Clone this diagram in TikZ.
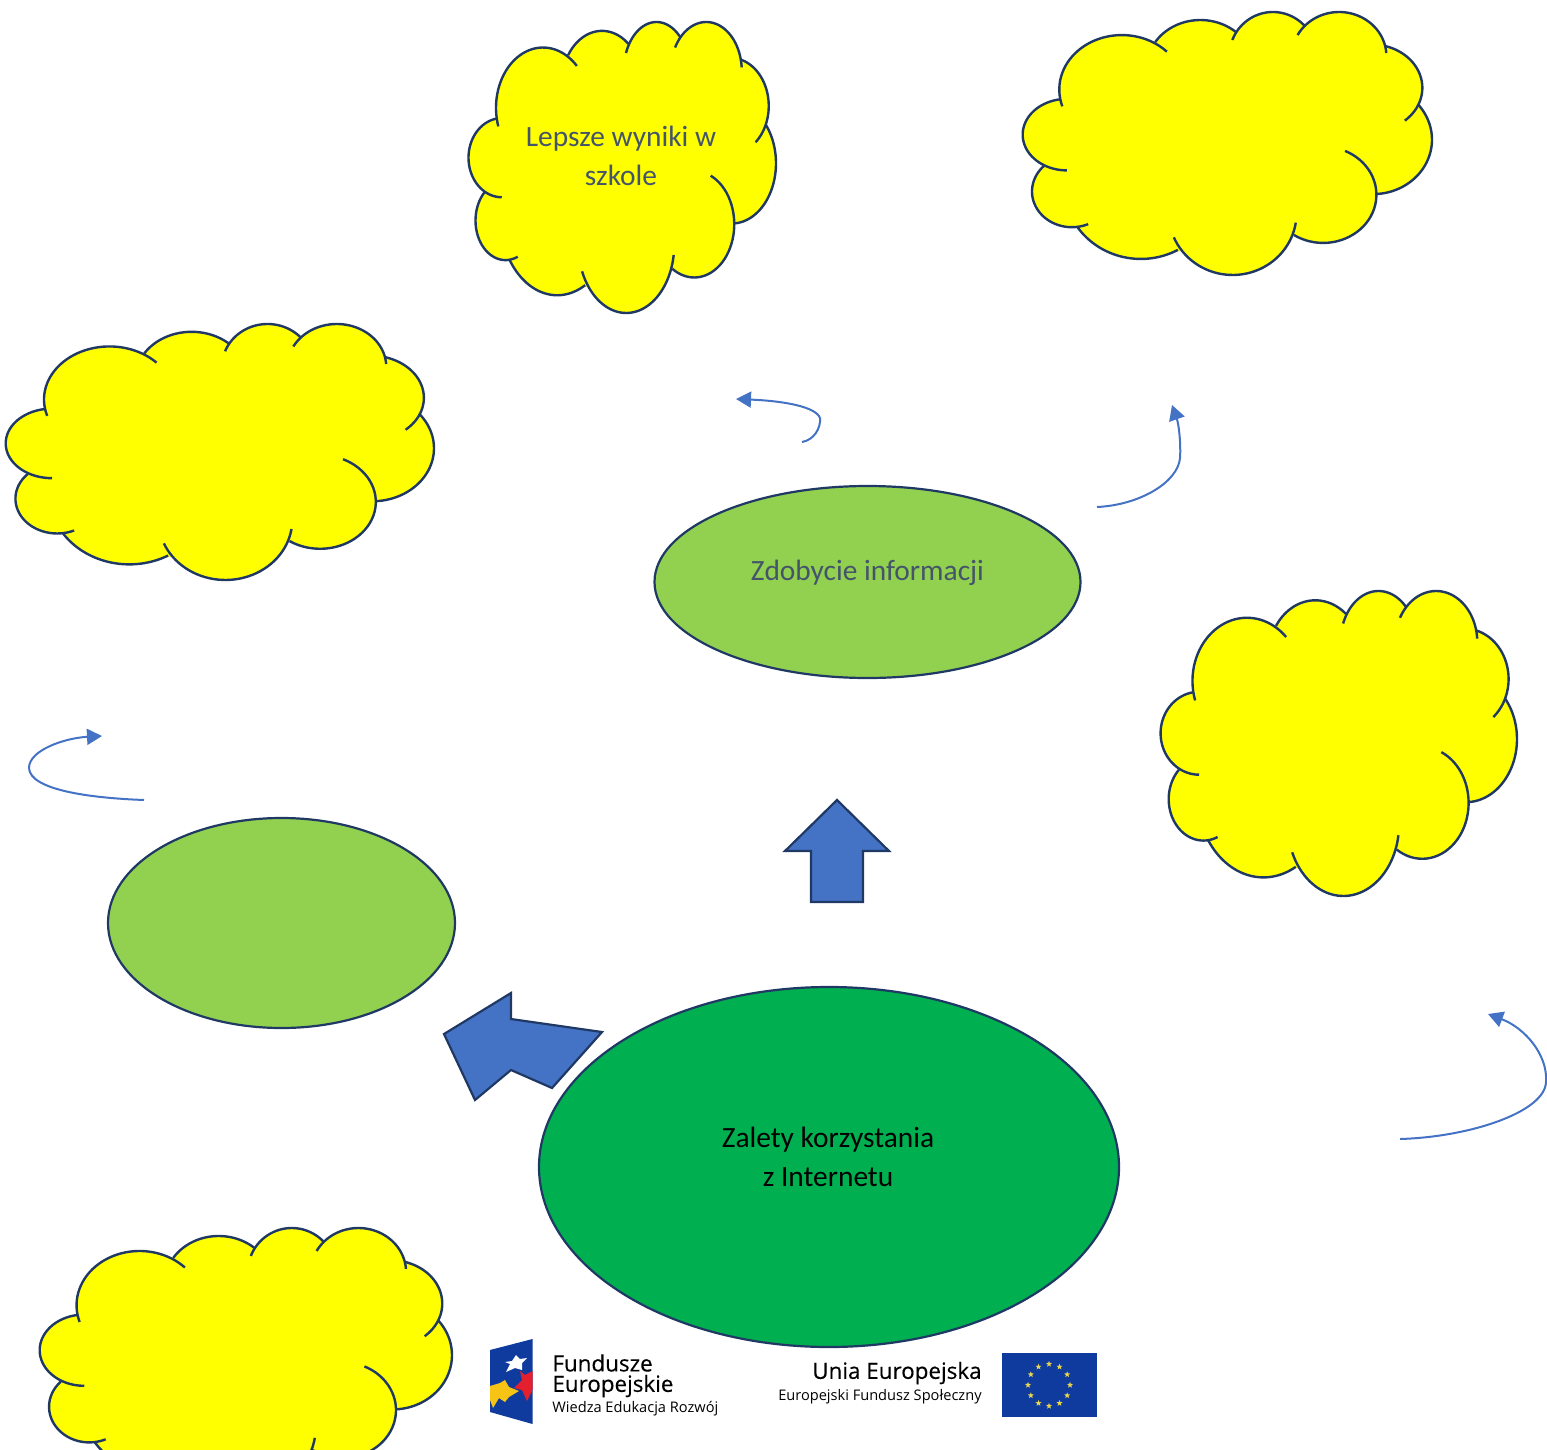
\documentclass[tikz,border=0pt]{standalone}
\usepackage{fontspec}
\setmainfont{Carlito}
\newfontfamily\logofont{Open Sans}
\newfontfamily\logobold[FakeBold=0.35]{Open Sans}
\usetikzlibrary{arrows.meta,shapes.geometric,calc}
\definecolor{lineblue}{HTML}{1F3864}
\definecolor{arrowblue}{HTML}{4472C4}
\definecolor{cloudyellow}{HTML}{FFFF00}
\definecolor{lightgreen}{HTML}{92D050}
\definecolor{darkgreen}{HTML}{00B050}
\definecolor{slate}{HTML}{44546A}
\definecolor{eublue}{HTML}{0F3B9E}
\definecolor{eustar}{HTML}{E8D44D}
\definecolor{logored}{HTML}{E5202E}
\definecolor{logoyellow}{HTML}{F7C416}
\tikzset{
  oval/.style={ellipse,draw=lineblue,line width=1.1pt,inner sep=0pt,outer sep=0pt},
  label text/.style={font=\fontsize{14.7}{19.5}\selectfont,align=center,inner sep=0pt},
  block/.style={draw=lineblue,line width=1.1pt,fill=arrowblue,line join=miter},
  curved/.style={draw=arrowblue,line width=1pt,-{Triangle[length=7.5pt,width=8pt]}},
  logo big/.style={font=\logobold\fontsize{11.2}{11.2}\selectfont,inner sep=0pt},
  logo small/.style={font=\logofont\fontsize{7.3}{7.3}\selectfont,inner sep=0pt},
}
% centre x, centre y, radius x, radius y, first angle, last angle
\newcommand\lobeseries{%
  \lobe{335}{270}{188}{163}{162}{316}%
  \lobe{571}{205}{161}{143}{212.6}{311}%
  \lobe{789}{170}{131}{132}{201.4}{317}%
  \lobe{988}{170}{142}{132}{208.5}{356}%
  \lobe{1085}{265}{153}{130}{286}{409}%
  \lobe{1090}{420}{177}{163}{-40}{87}%
  \lobe{940}{585}{160}{144}{-65.7}{123.3}%
  \lobe{668}{640}{192}{185}{8.8}{157}%
  \lobe{392}{560}{230}{217}{61}{146.5}%
  \lobe{185}{575}{120}{107}{66}{225}%
  \lobe{170}{405}{133}{107}{90}{261}%
}
\newcommand\cloudshape[4]{%
  \begin{scope}[shift={(#1,#2)},xscale={(#3-#1)/1232},yscale={(#4-#2)/787},shift={(-35,-38)}]
    \def\lobe##1##2##3##4##5##6{\fill[cloudyellow] plot[domain=##5:##6,samples=40,smooth] ({##1+##3*cos(\x)},{##2+##4*sin(\x)}) -- cycle;}%
    \lobeseries
    \filldraw[fill=cloudyellow,draw=cloudyellow,line width=0.8pt,line join=round] (150,298)--(435,128)--(677,97)--(885,80)--(1128,140)--(1225,315)--(1100,583)--(850,705)--(505,752)--(203,678)--(100,498)--cycle;
    \def\lobe##1##2##3##4##5##6{\draw[lineblue,line width=1.2pt] plot[domain=##5:##6,samples=40,smooth] ({##1+##3*cos(\x)},{##2+##4*sin(\x)});}%
    \lobeseries
  \end{scope}%
}
\begin{document}
\begin{tikzpicture}[x=0.5pt,y=-0.5pt]
\useasboundingbox (0,0) rectangle (1547,1450);
\clip (0,0) rectangle (1547,1450);

% clouds
\cloudshape{468}{22}{776}{313}
\cloudshape{1022}{12}{1432}{275}
\cloudshape{5}{324}{434}{580}
\cloudshape{1160}{591}{1517}{896}
\cloudshape{39}{1228}{452}{1490}
\node[label text,text=slate] (cloudtext) at (621,155.5) {Lepsze wyniki w\\szkole};

% ovals
\node[oval,fill=lightgreen,minimum width=213pt,minimum height=96pt] (info) at (867.5,582) {};
\node[oval,fill=lightgreen,minimum width=173.5pt,minimum height=105pt] (second) at (281.5,923) {};
\node[oval,fill=darkgreen,minimum width=290pt,minimum height=180pt] (main) at (829,1167) {};
\node[label text,text=slate] (infotext) at (867.5,573) {Zdobycie informacji};
\node[label text,text=black] (maintext) at (828,1156.5) {Zalety korzystania\\z Internetu};

% block arrows
\draw[block] (837,800)--(889,851)--(863,851)--(863,902)--(811,902)--(811,851)--(785,851)--cycle;
\draw[block] (444,1034)--(511,993)--(511,1019)--(602,1032)--(552,1088)--(511,1070)--(475,1100)--cycle;

% thin curved arrows
\coordinate (a1s) at (802,442); \coordinate (a1m) at (820,418); \coordinate (a1e) at (736,399);
\draw[curved] (a1s) .. controls (814,440) and (821,428) .. (a1m) .. controls (816,407) and (785,401) .. (a1e);
\coordinate (a2s) at (1097,507); \coordinate (a2m) at (1180,458); \coordinate (a2e) at (1172,405);
\draw[curved] (a2s) .. controls (1140,505) and (1178,482) .. (a2m) .. controls (1181,445) and (1179,425) .. (a2e);
\coordinate (a3s) at (144,800); \coordinate (a3m) at (29,768); \coordinate (a3e) at (102,736);
\draw[curved] (a3s) .. controls (90,798) and (30,790) .. (a3m) .. controls (29,750) and (65,738) .. (a3e);
\coordinate (a4s) at (1400,1139); \coordinate (a4m) at (1546,1082); \coordinate (a4e) at (1488,1014);
\draw[curved] (a4s) .. controls (1470,1137) and (1545,1112) .. (a4m) .. controls (1548,1055) and (1525,1028) .. (a4e);

% Fundusze Europejskie logo
\fill[eublue] (490,1350)--(532.5,1339)--(532.5,1424)--(490,1412)--cycle;
\fill[logoyellow] (490,1386)--(500,1383)--(505,1380)--(509,1387)--(519,1391)--(509,1397)--(505,1402)--(499,1398)--(493,1408)--(490,1400)--cycle;
\fill[logored] (532.5,1371)--(525,1375)--(520,1371)--(522,1380)--(514,1388)--(522,1390)--(527,1401)--(532.5,1390)--cycle;
\fill[white] (516,1355)--(520,1359)--(527,1358)--(522,1363)--(522,1370)--(515,1368)--(506,1372)--(510,1364)--(505,1362)--(512,1361)--cycle;

\node[logo big,anchor=west] (fe1) at (552,1363) {Fundusze};
\node[logo big,anchor=west] (fe2) at (552,1386) {Europejskie};
\node[logo small,anchor=west] (fe3) at (552,1409) {Wiedza Edukacja Rozwój};
\node[logo big,anchor=east] (ue1) at (982,1373) {Unia Europejska};
\node[logo small,anchor=east] (ue2) at (982,1397) {Europejski Fundusz Społeczny};

% EU flag
\fill[eublue] (1002,1353) rectangle (1097,1417);
\foreach \i in {0,...,11}
  \node[star,star points=5,star point ratio=2.4,fill=eustar,inner sep=0pt,minimum size=3.2pt] (st\i) at ($(1049,1385)+({30*\i}:21 and 21)$) {};
\end{tikzpicture}
\end{document}
